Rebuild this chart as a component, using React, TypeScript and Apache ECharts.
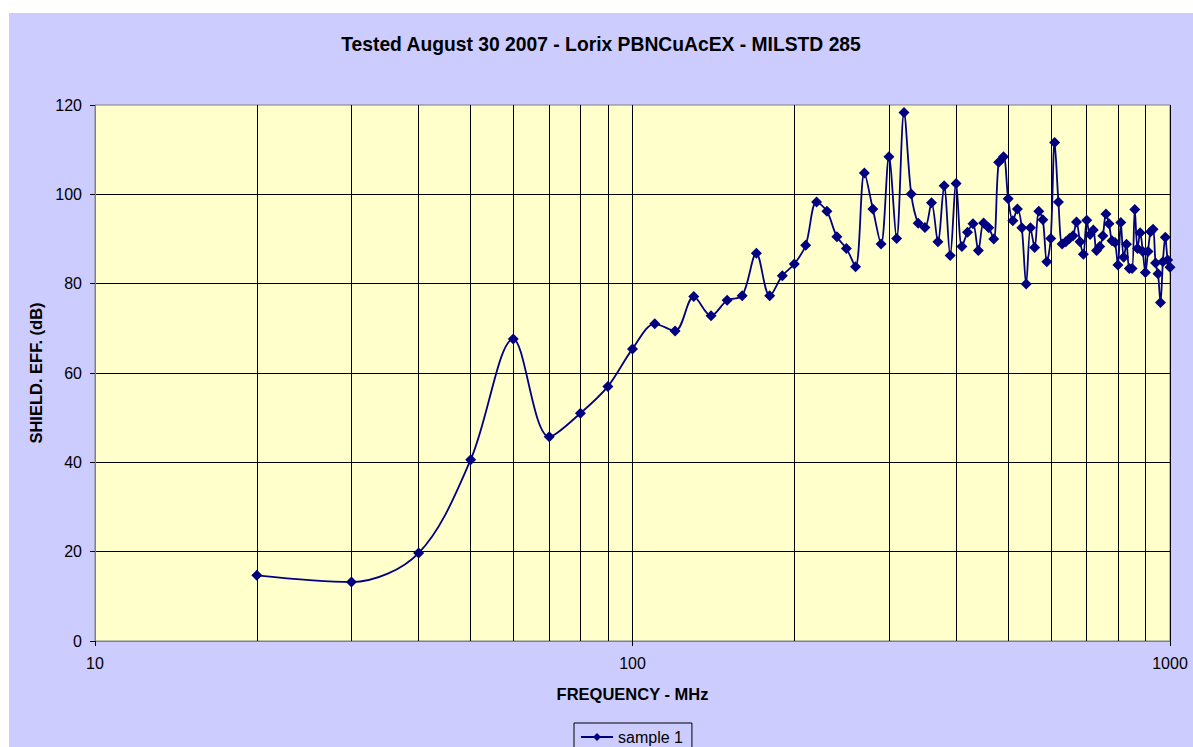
import React, { useEffect, useRef } from "react";
import * as echarts from "echarts";

const TITLE = "Tested August 30 2007 - Lorix PBNCuAcEX - MILSTD 285";
const X_NAME = "FREQUENCY - MHz";
const Y_NAME = "SHIELD. EFF. (dB)";
const SERIES_NAME = "sample 1";

const frequencies: number[] = [
  20, 30, 40, 50, 60, 70, 80, 90, 100,
  110, 120, 130, 140, 150, 160, 170, 180, 190, 200,
  210, 220, 230, 240, 250, 260, 270, 280, 290, 300,
  310, 320, 330, 340, 350, 360, 370, 380, 390, 400,
  410, 420, 430, 440, 450, 460, 470, 480, 490, 500,
  510, 520, 530, 540, 550, 560, 570, 580, 590, 600,
  610, 620, 630, 640, 650, 660, 670, 680, 690, 700,
  710, 720, 730, 740, 750, 760, 770, 780, 790, 800,
  810, 820, 830, 840, 850, 860, 870, 880, 890, 900,
  910, 920, 930, 940, 950, 960, 970, 980, 990, 1000,
];

const shielding: number[] = [
  14.7, 13.2, 19.7, 40.6, 67.6, 45.7, 51.0, 57.0, 65.4,
  71.0, 69.4, 77.1, 72.8, 76.3, 77.3, 86.8, 77.3, 81.8, 84.4,
  88.6, 98.3, 96.2, 90.5, 87.9, 83.8, 104.8, 96.7, 88.9, 108.4,
  90.1, 118.3, 100.1, 93.5, 92.6, 98.1, 89.4, 101.9, 86.3, 102.4,
  88.3, 91.5, 93.4, 87.4, 93.6, 92.5, 90.0, 107.2, 108.4, 99.0,
  94.1, 96.7, 92.5, 79.9, 92.5, 88.1, 96.2, 94.3, 84.9, 90.1,
  111.6, 98.3, 88.9, 89.4, 90.1, 90.7, 93.8, 89.4, 86.6, 94.2,
  91.0, 92.0, 87.4, 88.3, 90.7, 95.6, 93.4, 89.6, 89.2, 84.2,
  93.7, 85.9, 88.8, 83.4, 83.4, 96.6, 87.9, 91.4, 87.2, 82.5,
  87.2, 91.6, 92.2, 84.6, 82.2, 75.8, 84.9, 90.4, 85.3, 83.7,
];

const minorGridFreqs: number[] = [
  20, 30, 40, 50, 60, 70, 80, 90,
  200, 300, 400, 500, 600, 700, 800, 900,
];

const FONT = "'Liberation Sans', Arial, Helvetica, sans-serif";

export default function App() {
  const ref = useRef<HTMLDivElement>(null);

  useEffect(() => {
    if (!ref.current) return;
    const chart = echarts.init(ref.current, undefined, { renderer: "svg" });
    const data = frequencies.map((f, i) => [f, shielding[i]]);
    chart.setOption({
      animation: false,
      backgroundColor: "#CCCCFF",
      textStyle: { fontFamily: FONT, color: "#000" },
      title: {
        text: TITLE,
        left: "center",
        top: 22,
        padding: 0,
        textStyle: { fontFamily: FONT, fontSize: 19.3, fontWeight: "bold", color: "#000" },
      },
      grid: {
        left: 86,
        top: 92,
        width: 1075,
        height: 536,
        show: true,
        backgroundColor: "#FFFFCC",
        borderColor: "#808080",
        borderWidth: 1,
      },
      legend: {
        data: [SERIES_NAME],
        left: 565,
        top: 710,
        padding: [6, 9, 6, 6],
        borderColor: "#000",
        borderWidth: 1,
        itemWidth: 32,
        itemHeight: 10,
        itemGap: 5,
        textStyle: { fontFamily: FONT, fontSize: 16, color: "#000" },
      },
      xAxis: {
        type: "log",
        logBase: 10,
        min: 10,
        max: 1000,
        name: X_NAME,
        nameLocation: "middle",
        nameGap: 44,
        nameTextStyle: { fontFamily: FONT, fontSize: 16.5, fontWeight: "bold", color: "#000" },
        axisLine: { show: true, lineStyle: { color: "#808080", width: 1 } },
        axisTick: { show: true, length: 5, inside: false, lineStyle: { color: "#000" } },
        axisLabel: {
          fontFamily: FONT,
          fontSize: 16,
          color: "#000",
          margin: 14,
          formatter: (v: number) => String(Math.round(v)),
        },
        splitLine: { show: true, lineStyle: { color: "#000", width: 1 } },
        minorTick: { show: false },
      },
      yAxis: {
        type: "value",
        min: 0,
        max: 120,
        interval: 20,
        name: Y_NAME,
        nameLocation: "middle",
        nameRotate: 90,
        nameGap: 47,
        nameTextStyle: { fontFamily: FONT, fontSize: 16.5, fontWeight: "bold", color: "#000" },
        axisLine: { show: true, lineStyle: { color: "#808080", width: 1 } },
        axisTick: { show: true, length: 5, inside: false, lineStyle: { color: "#000" } },
        axisLabel: { fontFamily: FONT, fontSize: 16, color: "#000", margin: 13 },
        splitLine: { show: true, showMinLine: false, showMaxLine: false, lineStyle: { color: "#000", width: 1 } },
      },
      series: [
        {
          name: SERIES_NAME,
          type: "line",
          data,
          smooth: 0.33,
          symbol: "diamond",
          symbolSize: 11,
          color: "#000080",
          itemStyle: { color: "#000080" },
          lineStyle: { color: "#000080", width: 1.8 },
          z: 3,
          markLine: {
            silent: true,
            z: 1,
            symbol: ["none", "none"],
            label: { show: false },
            lineStyle: { color: "#000", type: "solid", width: 1 },
            emphasis: { disabled: true },
            data: minorGridFreqs.map((f) => ({ xAxis: f })),
          },
        },
      ],
    });
    return () => chart.dispose();
  }, []);

  return (
    <div
      ref={ref}
      style={{ position: "absolute", left: 9, top: 13, width: 1184, height: 734 }}
    />
  );
}
